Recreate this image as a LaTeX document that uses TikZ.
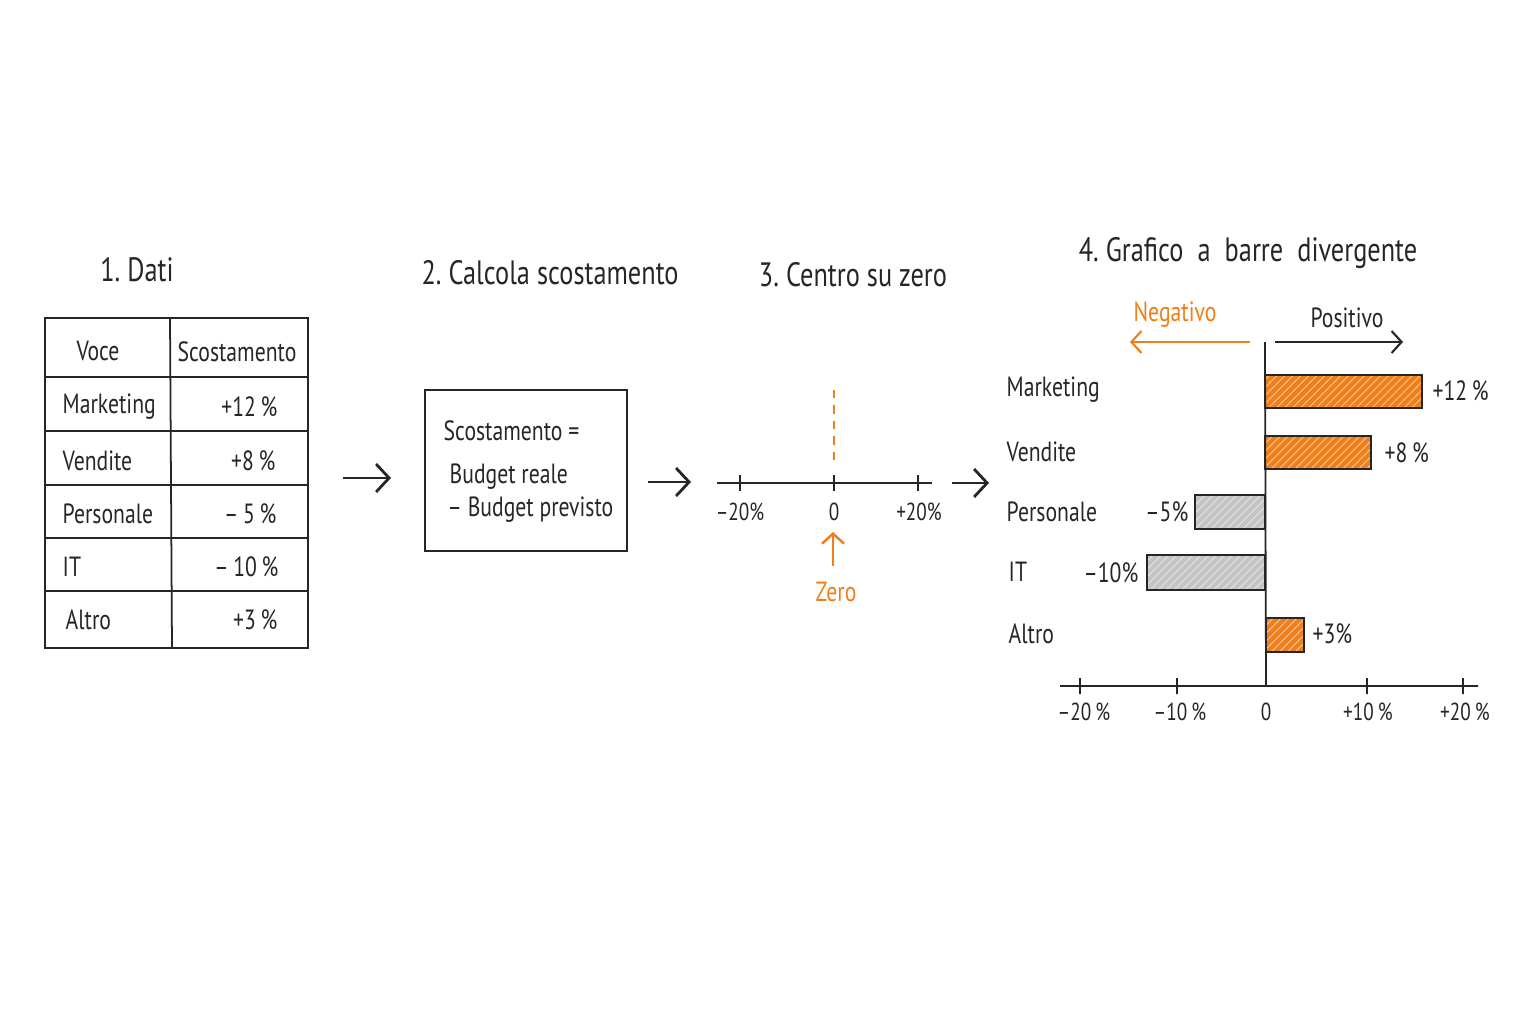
\documentclass[tikz,border=0pt]{standalone}
\usepackage{fontspec}
\setmainfont{PT Sans}[FakeStretch=0.78]
\usetikzlibrary{arrows.meta,patterns.meta}
\definecolor{ink}{HTML}{262626}
\definecolor{accent}{HTML}{EF7F1A}
\definecolor{greybar}{HTML}{C4C4C4}
\begin{document}
\begin{tikzpicture}[x=0.01cm,y=-0.01cm,
  title/.style={font=\fontsize{9.6}{11}\selectfont, text=ink, inner sep=0pt},
  lbl/.style={font=\fontsize{7.9}{9}\selectfont, text=ink, inner sep=0pt},
  ticklbl/.style={font=\fontsize{7}{8}\selectfont, text=ink, inner sep=0pt},
  arr/.style={draw=ink, line width=0.8pt, -{Straight Barb[length=1.3mm,width=2.8mm]}},
  line/.style={draw=ink, line width=0.5pt},
  bar/.style={preaction={fill=#1}, pattern={Lines[angle=45,distance=1.6pt,line width=0.3pt]}, pattern color=white!50!#1, draw=ink, line width=0.75pt}
 ]
\useasboundingbox[fill=white] (0,0) rectangle (1536,1024);

% titles
\node[title] (t1) at (137,270) {1.\ Dati};
\node[title] (t2) at (550,273) {2.\ Calcola scostamento};
\node[title] (t3) at (853,275) {3.\ Centro su zero};
\node[title] (t4) at (1248,253) {4.\ Grafico\ \ a\ \ barre\ \ divergente};

% table
\draw[draw=ink, line width=0.75pt] (45,318) rectangle (308,648);
\draw[draw=ink, line width=0.75pt] (45,377) -- (308,377);
\draw[line] (170,318) -- (172,648)
  (45,431) -- (308,431)
  (45,485) -- (308,485)
  (45,538) -- (308,538)
  (45,591) -- (308,591);
\node[lbl] (hv) at (98,351) {Voce};
\node[lbl] (hs) at (237,352) {Scostamento};
\node[lbl, anchor=west] (r1) at (62,407) {Marketing};
\node[lbl, anchor=west] (r2) at (62,461) {Vendite};
\node[lbl, anchor=west] (r3) at (62,514) {Personale};
\node[lbl, anchor=west] (r4) at (62,567) {IT};
\node[lbl, anchor=west] (r5) at (65,620) {Altro};
\node[lbl, anchor=east] (v1) at (278,407) {+12\,\%};
\node[lbl, anchor=east] (v2) at (276,461) {+8\,\%};
\node[lbl, anchor=east] (v3) at (277,514) {–\,5\,\%};
\node[lbl, anchor=east] (v4) at (279,567) {–\,10\,\%};
\node[lbl, anchor=east] (v5) at (278,620) {+3\,\%};

\coordinate (a1) at (343,478);
\coordinate (b1) at (391,478);
\draw[arr] (a1) -- (b1);

% formula
\draw[draw=ink, line width=0.6pt] (425,390) rectangle (627,551);
\node[lbl, anchor=west] (f1) at (443,431) {Scostamento =};
\node[lbl, anchor=west] (f2) at (449,477) {Budget reale};
\node[lbl, anchor=west] (f3) at (447,510) {– Budget previsto};

\coordinate (a2) at (648,482);
\coordinate (b2) at (691,482);
\draw[arr] (a2) -- (b2);

% centre on zero
\draw[line] (717,483) -- (932,483)
  (740,475) -- (740,491)
  (834,475) -- (834,491)
  (918,475) -- (918,491);
\node[ticklbl] (m20) at (740,512) {–20\%};
\node[ticklbl] (z0) at (834,512) {0};
\node[ticklbl] (p20) at (919,512) {+20\%};
\draw[draw=accent, line width=0.8pt, dash pattern=on 2.4pt off 2pt] (834,390) -- (834,467);
\node[lbl, text=accent] (zr) at (836,592) {Zero};
\coordinate (a3) at (833,566);
\coordinate (b3) at (833,532);
\draw[arr, draw=accent, line width=0.7pt, -{Straight Barb[length=1mm,width=2.2mm]}] (a3) -- (b3);

\coordinate (a4) at (952,483);
\coordinate (b4) at (989,483);
\draw[arr] (a4) -- (b4);

% diverging bars
\node[lbl, text=accent] (neg) at (1175,315) {Negativo};
\node[lbl] (pos) at (1347,318) {Positivo};
\coordinate (n1) at (1250,342);
\coordinate (n2) at (1130,342);
\coordinate (p1) at (1275,342);
\coordinate (p2) at (1403,342);
\draw[arr, draw=accent, line width=0.6pt, -{Straight Barb[length=1mm,width=2.2mm]}] (n1) -- (n2);
\draw[arr, line width=0.6pt, -{Straight Barb[length=1mm,width=2.2mm]}] (p1) -- (p2);

\draw[bar=accent] (1265,375) rectangle (1422,408);
\draw[bar=accent] (1265,436) rectangle (1371,469);
\draw[bar=greybar] (1195,495) rectangle (1265,529);
\draw[bar=greybar] (1147,555) rectangle (1265,590);
\draw[bar=accent] (1266,618) rectangle (1304,652);

\draw[line] (1265,342) -- (1266,686)
  (1060,686) -- (1478,686)
  (1080,678) -- (1080,694)
  (1177,678) -- (1177,694)
  (1367,678) -- (1367,694)
  (1463,678) -- (1463,694);

\node[lbl, anchor=west] (c1) at (1006,390) {Marketing};
\node[lbl, anchor=west] (c2) at (1006,452) {Vendite};
\node[lbl, anchor=west] (c3) at (1006,512) {Personale};
\node[lbl, anchor=west] (c4) at (1008,572) {IT};
\node[lbl, anchor=west] (c5) at (1008,634) {Altro};
\node[lbl, anchor=west] (d1) at (1432,391) {+12\,\%};
\node[lbl, anchor=west] (d2) at (1384,453) {+8\,\%};
\node[lbl, anchor=east] (d3) at (1189,512) {–5\%};
\node[lbl, anchor=east] (d4) at (1139,573) {–10\%};
\node[lbl, anchor=west] (d5) at (1312,634) {+3\%};

\node[ticklbl] (x1) at (1084,712) {–20\,\%};
\node[ticklbl] (x2) at (1180,712) {–10\,\%};
\node[ticklbl] (x3) at (1266,712) {0};
\node[ticklbl] (x4) at (1368,712) {+10\,\%};
\node[ticklbl] (x5) at (1465,712) {+20\,\%};
\end{tikzpicture}
\end{document}
